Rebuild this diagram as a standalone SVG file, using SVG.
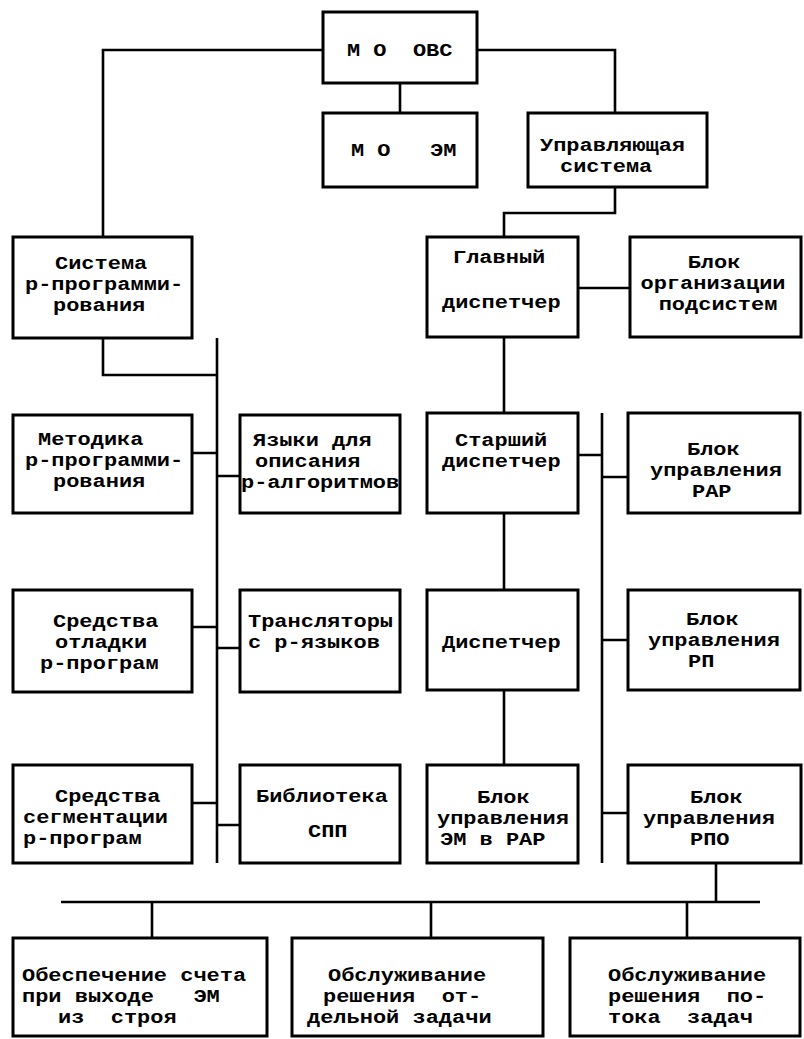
<svg xmlns="http://www.w3.org/2000/svg" width="804" height="1039" viewBox="0 0 804 1039">
<style>
.b{fill:#fff;stroke:#000;stroke-width:3}
.c{fill:none;stroke:#000;stroke-width:2.6}
.t{font-family:"Liberation Mono","DejaVu Sans Mono",monospace;font-size:18px;font-weight:bold;fill:#000;white-space:pre}
.m{text-anchor:middle}
</style>
<rect width="804" height="1039" fill="#fff"/>
<g id="connectors">
<path class="c" d="M103,237 V50 H323"/>
<path class="c" d="M477,50 H615 V113"/>
<path class="c" d="M400,83 V113"/>
<path class="c" d="M615,187 V213 H504 V237"/>
<path class="c" d="M103,338 V375 H217"/>
<path class="c" d="M217,338 V863"/>
<path class="c" d="M192,453 H217 M217,476 H240 M192,627 H217 M217,648 H240 M192,803 H217 M217,825 H240"/>
<path class="c" d="M578,288 H630"/>
<path class="c" d="M504,337 V413 M504,513 V590 M504,690 V765"/>
<path class="c" d="M602,413 V863"/>
<path class="c" d="M578,455 H602 M602,477 H628 M602,640 H628 M602,813 H628"/>
<path class="c" d="M716,863 V902"/>
<path class="c" d="M61,902 H760"/>
<path class="c" d="M152,902 V938 M431,902 V938 M687,902 V938"/>
</g>
<g id="n1"><rect class="b" x="323" y="12" width="154" height="71"/>
<text class="t" transform="translate(347 56) scale(1.222 1)">М О  ОВС</text></g>
<g id="n2"><rect class="b" x="323" y="113" width="154" height="74"/>
<text class="t" transform="translate(351 156) scale(1.222 1)">М О   ЭМ</text></g>
<g id="n3"><rect class="b" x="528" y="113" width="179" height="74"/>
<text class="t" transform="translate(540 151) scale(1.222 1)">Управляющая</text>
<text class="t" transform="translate(560 172) scale(1.222 1)">система</text></g>
<g id="n4"><rect class="b" x="13" y="237" width="179" height="101"/>
<text class="t" transform="translate(55 269) scale(1.222 1)">Система</text>
<text class="t" transform="translate(25 290) scale(1.222 1)">р-программи-</text>
<text class="t" transform="translate(53 311) scale(1.222 1)">рования</text></g>
<g id="n5"><rect class="b" x="427" y="237" width="151" height="100"/>
<text class="t" transform="translate(453 263) scale(1.222 1)">Главный</text>
<text class="t" transform="translate(442 308) scale(1.222 1)">диспетчер</text></g>
<g id="n6"><rect class="b" x="630" y="237" width="171" height="100"/>
<text class="t m" transform="translate(714 268) scale(1.222 1)">Блок</text>
<text class="t m" transform="translate(713 289) scale(1.222 1)">организации</text>
<text class="t m" transform="translate(718 310) scale(1.222 1)">подсистем</text></g>
<g id="n7"><rect class="b" x="13" y="415" width="179" height="98"/>
<text class="t" transform="translate(38 445) scale(1.222 1)">Методика</text>
<text class="t" transform="translate(25 466) scale(1.222 1)">р-программи-</text>
<text class="t" transform="translate(53 487) scale(1.222 1)">рования</text></g>
<g id="n8"><rect class="b" x="240" y="415" width="160" height="98"/>
<text class="t" transform="translate(253 446) scale(1.222 1)">Языки для</text>
<text class="t" transform="translate(255 467) scale(1.222 1)">описания</text>
<text class="t" transform="translate(241 488) scale(1.222 1)">р-алгоритмов</text></g>
<g id="n9"><rect class="b" x="427" y="413" width="151" height="100"/>
<text class="t" transform="translate(455 446) scale(1.222 1)">Старший</text>
<text class="t" transform="translate(442 467) scale(1.222 1)">диспетчер</text></g>
<g id="n10"><rect class="b" x="628" y="413" width="172" height="100"/>
<text class="t" transform="translate(687 455) scale(1.222 1)">Блок</text>
<text class="t" transform="translate(650 476) scale(1.222 1)">управления</text>
<text class="t" transform="translate(692 497) scale(1.222 1)">РАР</text></g>
<g id="n11"><rect class="b" x="13" y="590" width="179" height="102"/>
<text class="t" transform="translate(53 627) scale(1.222 1)">Средства</text>
<text class="t" transform="translate(55 648) scale(1.222 1)">отладки</text>
<text class="t" transform="translate(40 669) scale(1.222 1)">р-програм</text></g>
<g id="n12"><rect class="b" x="240" y="590" width="160" height="102"/>
<text class="t" transform="translate(248 627) scale(1.222 1)">Трансляторы</text>
<text class="t" transform="translate(248 648) scale(1.222 1)">с р-языков</text></g>
<g id="n13"><rect class="b" x="427" y="590" width="151" height="100"/>
<text class="t" transform="translate(442 648) scale(1.222 1)">Диспетчер</text></g>
<g id="n14"><rect class="b" x="628" y="590" width="172" height="100"/>
<text class="t" transform="translate(686 625) scale(1.222 1)">Блок</text>
<text class="t" transform="translate(648 646) scale(1.222 1)">управления</text>
<text class="t" transform="translate(688 667) scale(1.222 1)">РП</text></g>
<g id="n15"><rect class="b" x="13" y="765" width="179" height="98"/>
<text class="t" transform="translate(55 802) scale(1.222 1)">Средства</text>
<text class="t" transform="translate(23 823) scale(1.222 1)">сегментации</text>
<text class="t" transform="translate(23 844) scale(1.222 1)">р-програм</text></g>
<g id="n16"><rect class="b" x="240" y="765" width="160" height="98"/>
<text class="t" transform="translate(256 802) scale(1.222 1)">Библиотека</text>
<text class="t" transform="translate(308 837) scale(1.222 1)">СПП</text></g>
<g id="n17"><rect class="b" x="427" y="765" width="151" height="98"/>
<text class="t" transform="translate(477 803) scale(1.222 1)">Блок</text>
<text class="t" transform="translate(437 824) scale(1.222 1)">управления</text>
<text class="t" transform="translate(440 845) scale(1.222 1)">ЭМ в РАР</text></g>
<g id="n18"><rect class="b" x="628" y="765" width="173" height="98"/>
<text class="t" transform="translate(690 803) scale(1.222 1)">Блок</text>
<text class="t" transform="translate(643 824) scale(1.222 1)">управления</text>
<text class="t" transform="translate(690 845) scale(1.222 1)">РПО</text></g>
<g id="n19"><rect class="b" x="13" y="938" width="254" height="98"/>
<text class="t" transform="translate(22 981) scale(1.222 1)">Обеспечение счета</text>
<text class="t" transform="translate(22 1002) scale(1.222 1)">при выходе   ЭМ</text>
<text class="t" transform="translate(58 1023) scale(1.222 1)">из  строя</text></g>
<g id="n20"><rect class="b" x="292" y="938" width="251" height="98"/>
<text class="t" transform="translate(328 981) scale(1.222 1)">Обслуживание</text>
<text class="t" transform="translate(323 1002) scale(1.222 1)">решения  от-</text>
<text class="t" transform="translate(307 1023) scale(1.222 1)">дельной задачи</text></g>
<g id="n21"><rect class="b" x="570" y="938" width="230" height="98"/>
<text class="t" transform="translate(608 981) scale(1.222 1)">Обслуживание</text>
<text class="t" transform="translate(608 1002) scale(1.222 1)">решения  по-</text>
<text class="t" transform="translate(608 1023) scale(1.222 1)">тока  задач</text></g>
</svg>
